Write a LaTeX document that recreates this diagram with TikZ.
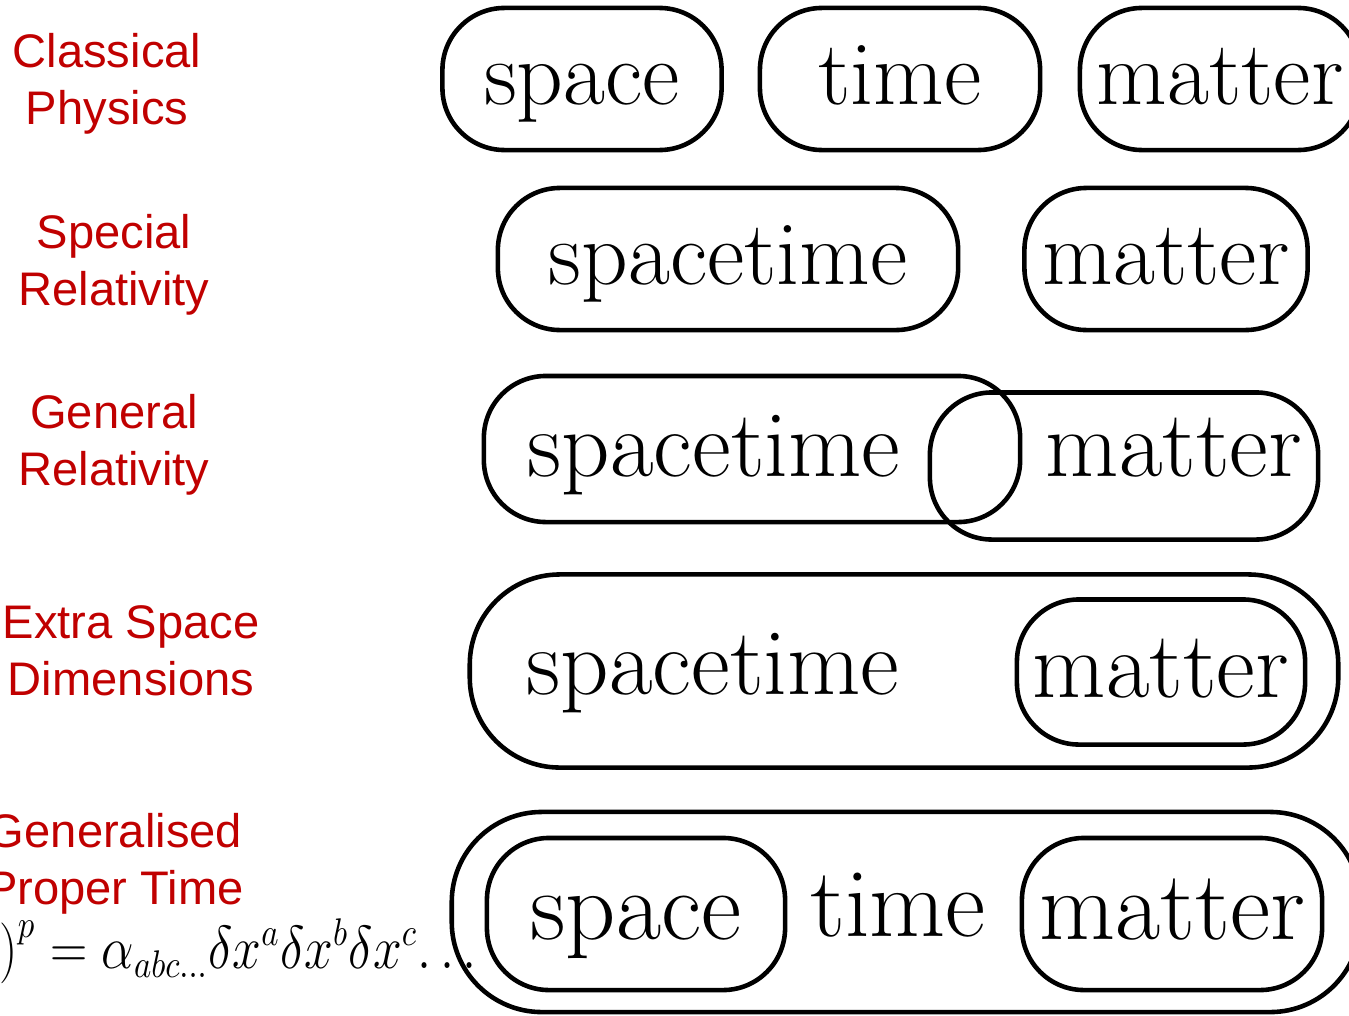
\documentclass[tikz,border=0pt]{standalone}
\usepackage{fontspec}
\usepackage{graphicx}
\newfontfamily\labfont{Liberation Sans}
\definecolor{labred}{HTML}{C00000}
\begin{document}
\begin{tikzpicture}[x=0.01cm,y=-0.01cm,
  pill/.style={draw, line width=1.3pt, rounded corners=0.62cm, inner sep=0pt,
    font=\fontsize{26}{30}\selectfont, text height=0.72cm, text depth=0.22cm},
  bigpill/.style={draw, line width=1.3pt, rounded corners=0.9cm, inner sep=0pt},
  word/.style={inner sep=0pt, font=\fontsize{26}{30}\selectfont, text height=0.72cm, text depth=0.22cm},
  big/.style={font=\fontsize{27}{31}\selectfont},
  bigger/.style={font=\fontsize{28}{32}\selectfont},
  lab/.style={text=labred, font=\labfont\fontsize{13.4}{16.2}\selectfont, align=center, inner sep=0pt}]
\useasboundingbox (0,0) rectangle (1349,1015);
\clip (0,0) rectangle (1349,1015);
% labels
\node[lab] (l1) at (107,84) {Classical\\Physics};
\node[lab] (l2) at (114,265) {Special\\Relativity};
\node[lab] (l3) at (114,445) {General\\Relativity};
\node[lab] (l4) at (131,651) {Extra Space\\Dimensions};
\node[lab] (l5) at (115,864) {Generalised\\Proper Time};
\node[anchor=base west, inner sep=0pt, font=\fontsize{16}{20}\selectfont] (f5) at (-1,968)
  {\scalebox{0.85}[1]{$\llap{$(\delta\tau$}{)}^p=\alpha_{abc\ldots}\delta x^a\delta x^b\delta x^c{\ldots}$}};
% row 1
\node[pill, minimum width=2.79cm, minimum height=1.42cm] (r1s) at (582,79) {space};
\node[pill, minimum width=2.80cm, minimum height=1.42cm] (r1t) at (900,79) {time};
\node[pill, minimum width=2.80cm, minimum height=1.42cm] (r1m) at (1220,79) {matter};
% row 2
\node[pill, minimum width=4.60cm, minimum height=1.42cm] (r2s) at (728,259) {spacetime};
\node[pill, minimum width=2.83cm, minimum height=1.42cm] (r2m) at (1166,259) {matter};
% row 3
\node[pill, minimum width=5.36cm, minimum height=1.46cm] (r3s) at (752,449) {};
\node[word, big] (r3st) at (714,451) {spacetime};
\node[pill, minimum width=3.88cm, minimum height=1.47cm] (r3m) at (1124,466) {};
\node[word, big] (r3mt) at (1174,451) {matter};
% row 4
\node[bigpill, minimum width=8.68cm, minimum height=1.93cm] (r4o) at (904,671) {};
\node[word, big] (r4s) at (713,669) {spacetime};
\node[pill, big, minimum width=2.88cm, minimum height=1.45cm] (r4m) at (1161,672) {matter};
% row 5
\node[bigpill, minimum width=9.08cm, minimum height=2.0cm] (r5o) at (906,912) {};
\node[pill, bigger, minimum width=2.98cm, minimum height=1.52cm] (r5s) at (636,914) {space};
\node[word, bigger] (r5t) at (898,911) {time};
\node[pill, bigger, minimum width=3.00cm, minimum height=1.52cm] (r5m) at (1172,914) {matter};
\end{tikzpicture}
\end{document}
